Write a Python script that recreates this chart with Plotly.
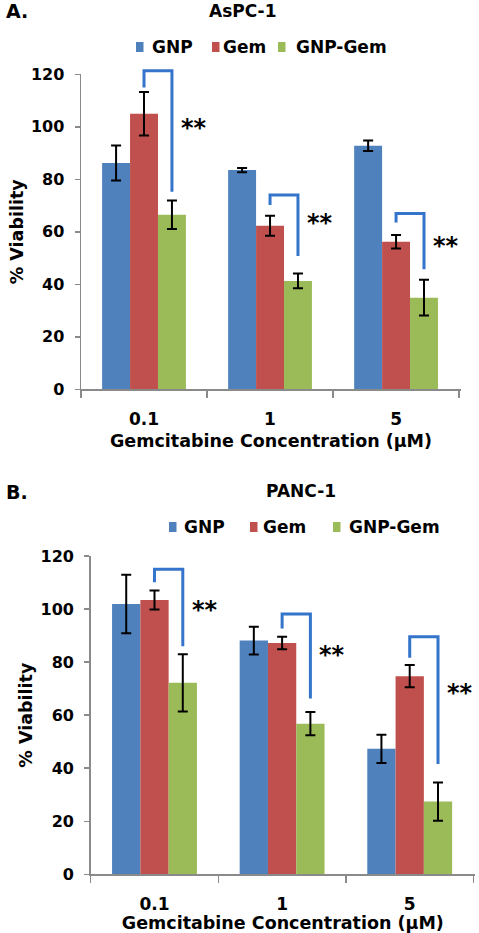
import plotly.graph_objects as go

# ---------------- data ----------------
concentrations = ["0.1", "1", "5"]
series_names = ["GNP", "Gem", "GNP-Gem"]

# Panel A: AsPC-1
aspc_gnp = [86.2, 83.5, 92.8]
aspc_gnp_err = [6.7, 0.8, 2.0]
aspc_gem = [105.0, 62.3, 56.2]
aspc_gem_err = [8.3, 3.8, 2.6]
aspc_gnpgem = [66.5, 41.3, 34.9]
aspc_gnpgem_err = [5.4, 2.8, 6.8]

# Panel B: PANC-1
panc_gnp = [101.9, 88.1, 47.3]
panc_gnp_err = [11.0, 5.2, 5.3]
panc_gem = [103.4, 87.2, 74.7]
panc_gem_err = [3.6, 2.4, 4.2]
panc_gnpgem = [72.2, 56.8, 27.4]
panc_gnpgem_err = [10.8, 4.4, 7.2]

# significance brackets (Gem vs GNP-Gem): top, left-leg end, right-leg end, star level
aspc_bracket_top = [121.4, 74.0, 67.0]
aspc_bracket_left = [115.0, 70.2, 63.5]
aspc_bracket_right = [75.3, 50.8, 45.7]
aspc_star_y = [100.7, 64.5, 55.6]

panc_bracket_top = [115.0, 98.1, 89.6]
panc_bracket_left = [110.1, 92.7, 81.6]
panc_bracket_right = [86.0, 66.3, 41.6]
panc_star_y = [100.9, 83.9, 69.5]

y_ticks = [0, 20, 40, 60, 80, 100, 120]
y_max = 120

# ---------------- style / layout ----------------
colors = ["#4F81BD", "#C0504D", "#9BBB59"]
bracket_color = "#3574CB"
axis_color = "#8A8A8A"
FONT = "DejaVu Sans, Arial, sans-serif"
BARGAP = 0.335
W = 479.0
H = 933.0

# legend placement (pixels): square left edges, text left edges, row centre
legend_rows = [
    dict(sq_x=[136, 212, 278], txt_x=[150, 221, 294], yc=47),
    dict(sq_x=[169, 250, 333], txt_x=[182, 261, 347], yc=527),
]
SQ_W, SQ_H = 7.5, 10

fig = go.Figure()

panels = [
    dict(vals=[aspc_gnp, aspc_gem, aspc_gnpgem],
         errs=[aspc_gnp_err, aspc_gem_err, aspc_gnpgem_err],
         xa="x", ya="y",
         btop=aspc_bracket_top, bl=aspc_bracket_left, br=aspc_bracket_right,
         stars=aspc_star_y),
    dict(vals=[panc_gnp, panc_gem, panc_gnpgem],
         errs=[panc_gnp_err, panc_gem_err, panc_gnpgem_err],
         xa="x2", ya="y2",
         btop=panc_bracket_top, bl=panc_bracket_left, br=panc_bracket_right,
         stars=panc_star_y),
]

for p in panels:
    for name, vals, errs, col in zip(series_names, p["vals"], p["errs"], colors):
        fig.add_trace(go.Bar(
            x=concentrations, y=vals, name=name,
            marker=dict(color=col, line=dict(width=0)),
            error_y=dict(type="data", array=errs, visible=True,
                         color="black", thickness=2, width=5),
            xaxis=p["xa"], yaxis=p["ya"], showlegend=False,
        ))

bar_w = (1 - BARGAP) / 3
shapes = []
annotations = []
for p in panels:
    yref_dom = p["ya"] + " domain"
    for i in range(len(concentrations)):
        xl = i              # centre of the Gem bar
        xr = i + bar_w      # centre of the GNP-Gem bar
        yl = p["bl"][i] / y_max
        yt = p["btop"][i] / y_max
        yr = p["br"][i] / y_max
        shapes.append(dict(
            type="path", xref=p["xa"], yref=yref_dom,
            path=f"M {xl},{yl} L {xl},{yt} L {xr},{yt} L {xr},{yr}",
            line=dict(color=bracket_color, width=3),
        ))
        annotations.append(dict(
            x=xr, y=p["stars"][i], xref=p["xa"], yref=p["ya"],
            text="**", showarrow=False, xanchor="left", yanchor="middle",
            xshift=7, yshift=-3,
            font=dict(family=FONT, size=24, color="black", weight="bold"),
        ))

# manual legends (coloured squares + labels)
legend_font = dict(family=FONT, size=17, color="black", weight="bold")
for row in legend_rows:
    for name, col, sx, tx in zip(series_names, colors, row["sq_x"], row["txt_x"]):
        shapes.append(dict(
            type="rect", xref="paper", yref="paper",
            x0=sx / W, x1=(sx + SQ_W) / W,
            y0=1 - (row["yc"] + SQ_H / 2) / H, y1=1 - (row["yc"] - SQ_H / 2) / H,
            fillcolor=col, line=dict(width=0),
        ))
        annotations.append(dict(
            x=tx / W, y=1 - row["yc"] / H, xref="paper", yref="paper",
            text=name, showarrow=False, xanchor="left", yanchor="middle",
            font=legend_font,
        ))

# panel labels and titles
for txt, xpx, ypx, size, anchor in [
    ("A.", 4, 11, 19, "left"),
    ("AsPC-1", 243, 11, 17, "center"),
    ("B.", 4, 492, 19, "left"),
    ("PANC-1", 301, 491, 17, "center"),
]:
    annotations.append(dict(
        x=xpx / W, y=1 - ypx / H, xref="paper", yref="paper",
        text=txt, showarrow=False, xanchor=anchor, yanchor="middle",
        font=dict(family=FONT, size=size, color="black", weight="bold"),
    ))

tick_font = dict(family=FONT, size=16, color="black", weight="bold")
xtick_font = dict(family=FONT, size=17, color="black", weight="bold")
title_font = dict(family=FONT, size=17.5, color="black", weight="bold")

def xaxis_cfg(domain, anchor):
    return dict(
        domain=domain, anchor=anchor, type="category", automargin=False,
        showline=True, linecolor=axis_color, linewidth=1.5,
        ticks="outside", tickson="boundaries", ticklen=7,
        tickcolor=axis_color, tickwidth=1.5, ticklabelstandoff=14,
        tickfont=xtick_font, showgrid=False, zeroline=False,
        title=dict(text="Gemcitabine Concentration (μM)", font=title_font, standoff=6),
        fixedrange=True,
    )

def yaxis_cfg(domain, anchor):
    return dict(
        domain=domain, anchor=anchor, range=[0, y_max], automargin=False,
        tickvals=y_ticks, showline=True, linecolor=axis_color, linewidth=1.5,
        ticks="outside", ticklen=5, tickcolor=axis_color, tickwidth=1.5,
        tickfont=tick_font, showgrid=False, zeroline=False,
        ticklabelstandoff=7,
        title=dict(text="% Viability", font=title_font, standoff=3),
        fixedrange=True,
    )

fig.update_layout(
    width=479, height=933,
    margin=dict(l=0, r=0, t=0, b=0, autoexpand=False),
    paper_bgcolor="white", plot_bgcolor="white",
    barmode="group", bargap=BARGAP, bargroupgap=0,
    showlegend=False, hovermode=False,
    xaxis=xaxis_cfg([81 / W, 461 / W], "y"),
    yaxis=yaxis_cfg([1 - 389.3 / H, 1 - 74.3 / H], "x"),
    xaxis2=xaxis_cfg([90.7 / W, 475 / W], "y2"),
    yaxis2=yaxis_cfg([1 - 874.3 / H, 1 - 556 / H], "x2"),
    shapes=shapes,
    annotations=annotations,
)

fig.write_html(
    "out.html",
    config={"displayModeBar": False, "staticPlot": True},
    post_script=(
        "document.body.style.margin='0';"
        "document.body.style.padding='0';"
        "document.documentElement.style.overflow='hidden';"
    ),
)
